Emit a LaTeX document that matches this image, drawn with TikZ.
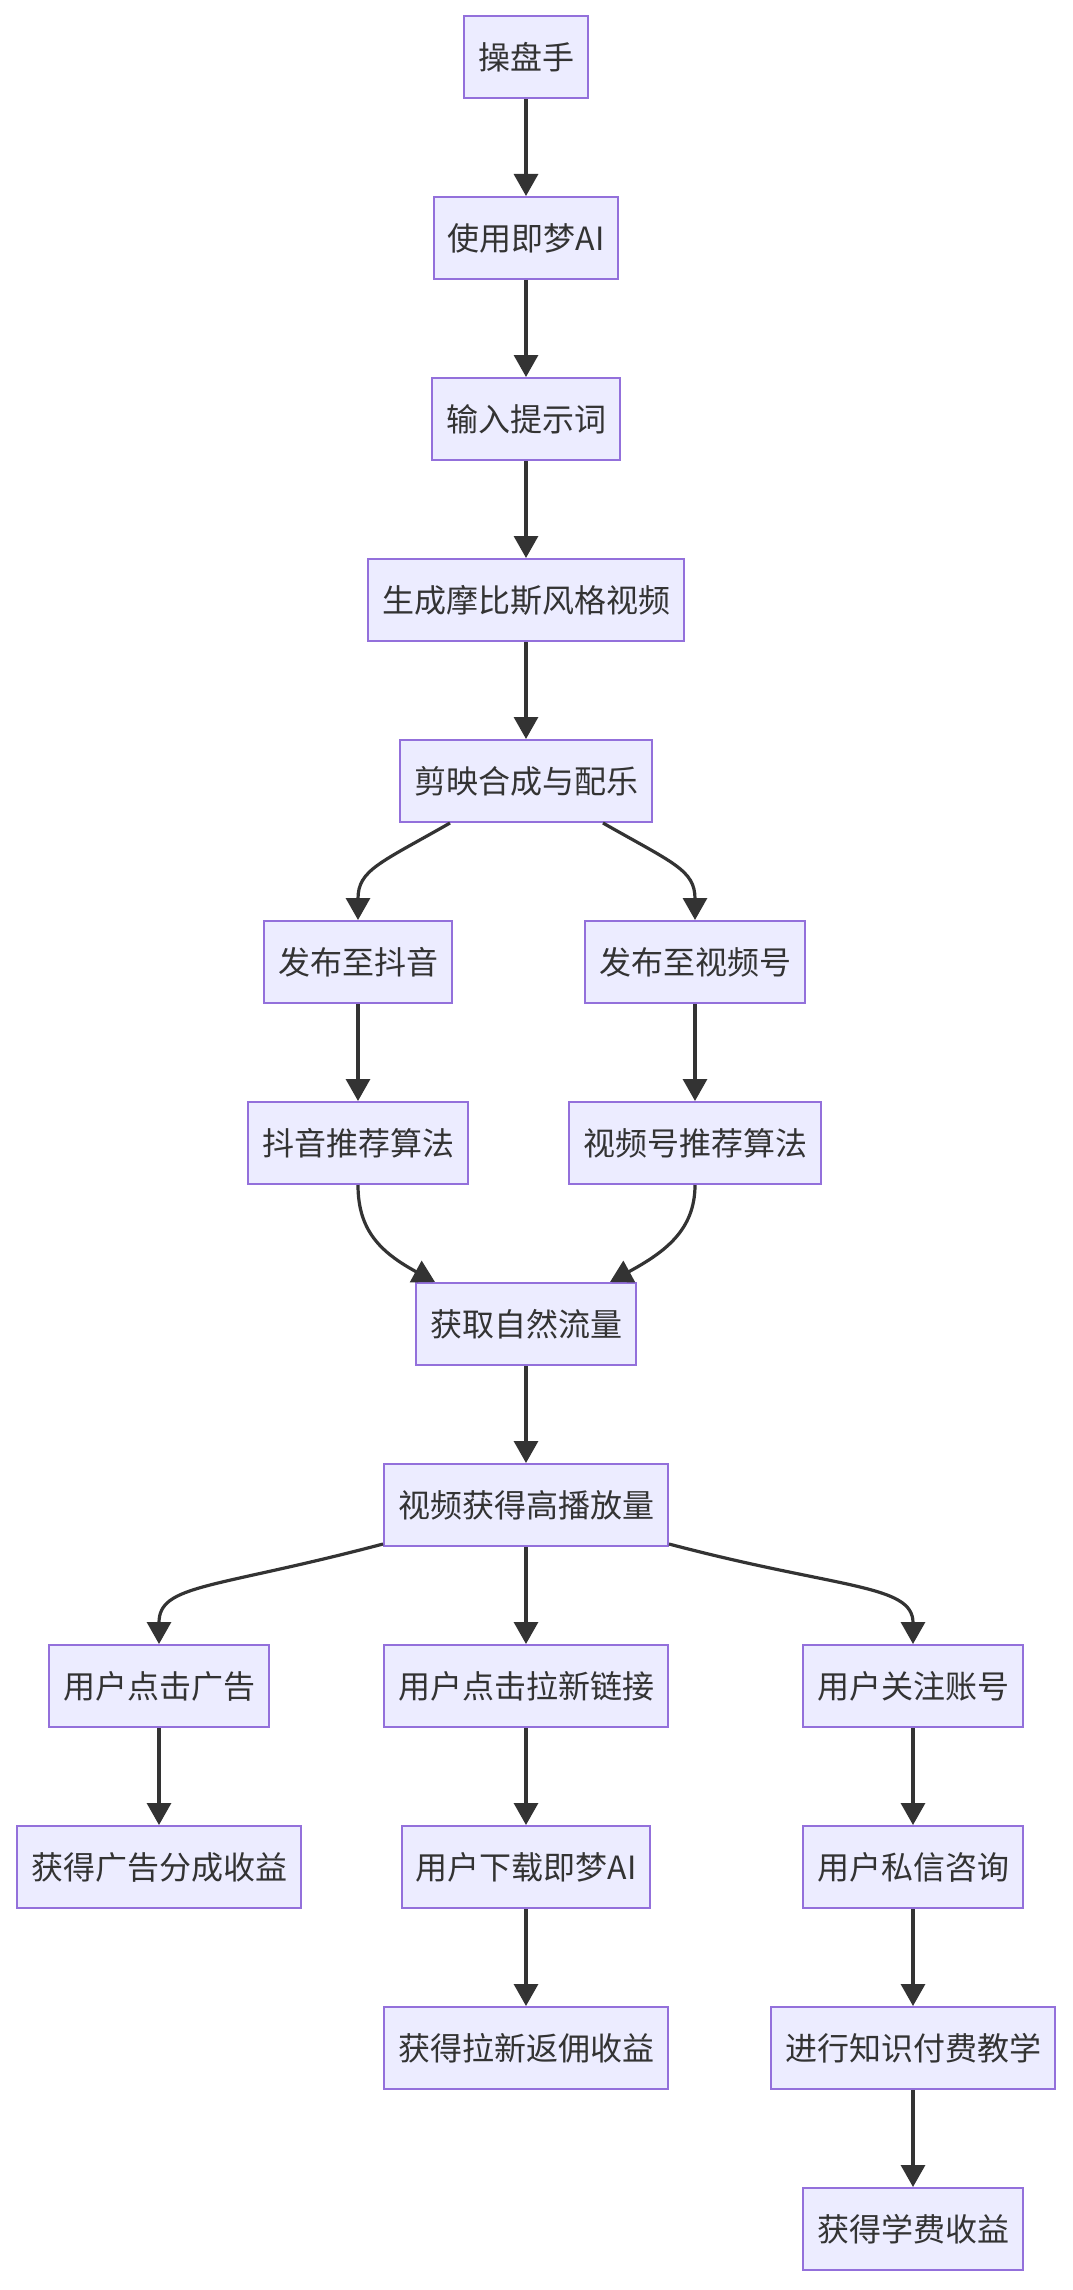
\documentclass[tikz,border=0pt]{standalone}
\usepackage{fontspec}
\setmainfont{Noto Sans CJK SC}
\usetikzlibrary{arrows.meta}
\definecolor{mmFill}{HTML}{ECECFF}
\definecolor{mmLine}{HTML}{9370DB}
\definecolor{mmEdge}{HTML}{333333}

\begin{document}
\begin{tikzpicture}[x=1pt,y=-1pt,
  box/.style={draw=mmLine,fill=mmFill,line width=2pt,minimum height=82pt,
    inner xsep=14pt,text=mmEdge,font=\fontsize{32}{38}\selectfont},
  flow/.style={draw=mmEdge,line width=3.2pt,-{Triangle[length=22pt,width=24pt]}}]
  \useasboundingbox (0,0) rectangle (1072,2290);

  \node[box] (czs) at (526,57) {操盘手};
  \node[box] (sy) at (526,238) {使用即梦AI};
  \node[box] (sr) at (526,419) {输入提示词};
  \node[box] (sc) at (526,600) {生成摩比斯风格视频};
  \node[box] (jy) at (526,781) {剪映合成与配乐};

  \node[box] (fdy) at (358,962) {发布至抖音};
  \node[box] (fsph) at (695,962) {发布至视频号};
  \node[box] (dytj) at (358,1143) {抖音推荐算法};
  \node[box] (sphtj) at (695,1143) {视频号推荐算法};

  \node[box] (zrll) at (526,1324) {获取自然流量};
  \node[box] (gbf) at (526,1505) {视频获得高播放量};

  \node[box] (djgg) at (159,1686) {用户点击广告};
  \node[box] (djlx) at (526,1686) {用户点击拉新链接};
  \node[box] (gzzh) at (913,1686) {用户关注账号};
  \node[box] (ggsy) at (159,1867) {获得广告分成收益};
  \node[box] (xzjm) at (526,1867) {用户下载即梦AI};
  \node[box] (sxzx) at (913,1867) {用户私信咨询};
  \node[box] (fysy) at (526,2048) {获得拉新返佣收益};
  \node[box] (zsff) at (913,2048) {进行知识付费教学};
  \node[box] (xfsy) at (913,2229) {获得学费收益};

  \foreach \a/\b in {czs/sy,sy/sr,sr/sc,sc/jy,fdy/dytj,fsph/sphtj,zrll/gbf,
    gbf/djlx,djgg/ggsy,djlx/xzjm,xzjm/fysy,gzzh/sxzx,sxzx/zsff,zsff/xfsy}
    \draw[flow] (\a) -- (\b);

  % branching curves
  \draw[flow] ([xshift=-76pt]jy.south) .. controls +(-70,40) and +(0,-50) .. (fdy.north);
  \draw[flow] ([xshift=77pt]jy.south) .. controls +(70,40) and +(0,-50) .. (fsph.north);
  \draw[flow] (dytj.south) .. controls +(0,45) and +(-55,-30) .. ([xshift=-91pt]zrll.north);
  \draw[flow] (sphtj.south) .. controls +(0,45) and +(55,-30) .. ([xshift=84pt]zrll.north);
  \draw[flow] ([yshift=3pt]gbf.south west) .. controls +(-170,45) and +(0,-60) .. (djgg.north);
  \draw[flow] ([yshift=3pt]gbf.south east) .. controls +(170,45) and +(0,-60) .. (gzzh.north);
\end{tikzpicture}
\end{document}
